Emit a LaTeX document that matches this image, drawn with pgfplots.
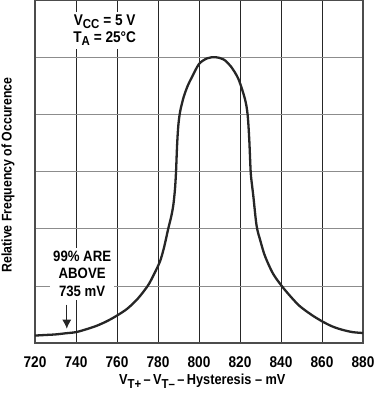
\documentclass[border=0pt]{standalone}
\usepackage{pgfplots}
\pgfplotsset{compat=1.18}
\usepackage{fontspec}
\setmainfont{Liberation Sans}[FakeStretch=0.88]
\usetikzlibrary{arrows.meta}
\newcommand{\sub}[1]{{\fontsize{13}{13}\selectfont\raisebox{-3.5pt}{#1}}}
\begin{document}
\begin{tikzpicture}
\begin{axis}[
  scale only axis, width=328pt, height=343pt,
  xmin=720, xmax=880, ymin=0, ymax=6,
  xtick={720,740,...,880}, ytick={1,2,3,4,5},
  yticklabels={}, 
  major tick length=0pt,
  grid=major,
  x grid style={black!85, line width=0.6pt},
  y grid style={black!45, line width=0.6pt},
  axis line style={black!70, line width=1.2pt},
  /pgf/number format/assume math mode=true,
  /pgf/number format/1000 sep={},
  xticklabel style={font=\bfseries\fontsize{15.5}{16}\selectfont, yshift=-10pt},
  xlabel={V\sub{T+}\,--\,V\sub{T--}\,--\,Hysteresis -- mV},
  xlabel style={font=\bfseries\fontsize{14.5}{16}\selectfont, at={(axis description cs:0.51,-0.112)}, anchor=center},
  ylabel={Relative Frequency of Occurence},
  ylabel style={font=\bfseries\fontsize{14}{14}\selectfont, at={(axis description cs:-0.082,0.49)}, anchor=center},
  clip=true,
]
\addplot[black!85, line width=2.3pt, smooth, tension=0.5] coordinates {
(720,0.13) (725,0.14) (730,0.15) (735,0.17) (740,0.19) (745,0.24) (750,0.30)
(755,0.38) (760,0.48) (765,0.60) (770,0.77) (775,1.0) (778,1.2) (781,1.43)
(783,1.68) (785,2.0) (786.5,2.22) (787.5,2.42) (788.3,2.7) (788.8,3.0)
(789.3,3.45) (789.9,3.8) (790.8,4.05) (792.5,4.3) (794.5,4.5) (796.4,4.64)
(800,4.88) (804,4.98) (808,5.0) (812,4.96) (815.5,4.84) (819.2,4.62)
(822.4,4.27) (823.7,4.0) (824.5,3.57) (825.2,3.0) (825.8,2.78) (826.5,2.57)
(828.1,2.05) (830,1.78) (832.2,1.52) (836,1.22) (840.3,1.0)
(845,0.80) (849.3,0.64) (855,0.49) (860,0.38) (865,0.29) (870,0.23)
(875,0.19) (880,0.175)
};
\node[fill=white, align=center, inner sep=3pt, font=\bfseries\fontsize{15.5}{17}\selectfont] at (axis cs:754,5.47)
  {V\sub{CC} = 5 V\\T\sub{A} = 25\textdegree C};
\node[fill=white, align=center, inner sep=3pt, font=\bfseries\fontsize{15}{17.5}\selectfont] at (axis cs:743,1.21)
  {99\% ARE\\ABOVE\\735 mV};
\draw[black!85, line width=1pt, -{Latex[length=9pt,width=9pt]}] (axis cs:735.5,0.67) -- (axis cs:735.5,0.25);
\end{axis}
\pgfresetboundingbox
\path[use as bounding box] (-35pt,-50pt) rectangle (339pt,343pt);
\end{tikzpicture}
\end{document}
